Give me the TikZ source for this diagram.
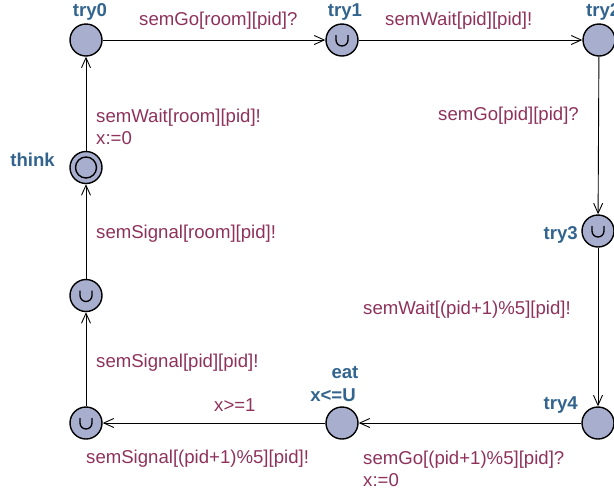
\documentclass[tikz,border=0pt]{standalone}
\usepackage{fontspec}
\setmainfont{Liberation Sans}
\usetikzlibrary{arrows.meta}
\definecolor{locfill}{RGB}{168,175,206}
\definecolor{locname}{RGB}{50,100,142}
\definecolor{edgelbl}{RGB}{142,50,92}
\newcommand\cupmark[1]{\draw[cupline] ([shift={(-6,5)}]#1.center) -- ++(0,-5) arc[start angle=180,end angle=360,radius=6] -- ++(0,5);}
\begin{document}
\begin{tikzpicture}[x=1pt,y=1pt,
 loc/.style={circle,draw,line width=1.4pt,fill=locfill,minimum size=32pt,inner sep=0pt},
 lname/.style={text=locname,font=\fontsize{18.6}{22}\selectfont\bfseries,inner sep=0pt},
 elbl/.style={text=edgelbl,font=\fontsize{18.6}{22}\selectfont,inner sep=0pt,anchor=west,align=left},
 trans/.style={line width=0.9pt,-{Straight Barb[length=10pt,width=9pt]}},
 cupline/.style={line width=1.3pt}]
\useasboundingbox (0,0) rectangle (614,-491);
% locations
\node[loc] (try0) at (86,-40) {};
\node[loc] (try1) at (342,-40) {};
\node[loc] (try2) at (599,-40) {};
\node[loc] (think) at (86,-167.5) {};
\node[loc] (try3) at (598,-231) {};
\node[loc] (n5) at (86,-295.5) {};
\node[loc] (n6) at (86,-423) {};
\node[loc] (eat) at (342,-423) {};
\node[loc] (try4) at (598,-423) {};
\draw[line width=1.4pt] (think.center) circle[radius=10.5];
\cupmark{try1}
\cupmark{try3}
\cupmark{n5}
\cupmark{n6}
% location names
\node[lname] (ltry0) at (90,-12) {try0};
\node[lname] (ltry1) at (345,-12) {try1};
\node[lname,anchor=west] (ltry2) at (586,-12) {try2};
\node[lname,anchor=east] (lthink) at (55,-159.5) {think};
\node[lname,anchor=east] (ltry3) at (578,-234.5) {try3};
\node[lname] (leat) at (345,-373) {eat};
\node[lname] (linv) at (333,-395) {x<=U};
\node[lname,anchor=east] (ltry4) at (578,-405.5) {try4};
% transitions
\draw[trans] (try0) -- (try1);
\draw[trans] (try1) -- (try2);
\draw[trans] (try2) -- (try3);
\draw[trans] (try3) -- (try4);
\draw[trans] (try4) -- (eat);
\draw[trans] (eat) -- (n6);
\draw[trans] (n6) -- (n5);
\draw[trans] (n5) -- (think);
\draw[trans] (think) -- (try0);
% transition labels
\node[elbl] (e1) at (139,-20.5) {semGo[room][pid]?};
\node[elbl] (e2) at (385,-20.5) {semWait[pid][pid]!};
\node[elbl] (e3) at (438,-116) {semGo[pid][pid]?};
\node[elbl,anchor=north west] (e4) at (96,-109) {semWait[room][pid]!\\x:=0};
\node[elbl] (e5) at (96,-234) {semSignal[room][pid]!};
\node[elbl] (e6) at (363,-309.5) {semWait[(pid+1)\%5][pid]!};
\node[elbl] (e7) at (96,-363) {semSignal[pid][pid]!};
\node[elbl] (e8) at (214,-405) {x>=1};
\node[elbl] (e9) at (86,-459) {semSignal[(pid+1)\%5][pid]!};
\node[elbl,anchor=north west] (e10) at (363,-451) {semGo[(pid+1)\%5][pid]?\\x:=0};
\end{tikzpicture}
\end{document}
